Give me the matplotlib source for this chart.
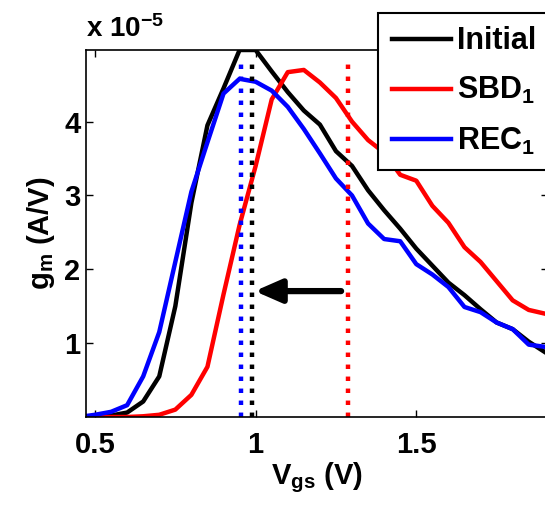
import numpy as np
import matplotlib
matplotlib.use('Agg')
import matplotlib.pyplot as plt

# Vgs 掃描點 (V)
vgs = [0.45, 0.50, 0.55, 0.60, 0.65, 0.70, 0.75, 0.80, 0.85, 0.90,
       0.95, 1.00, 1.05, 1.10, 1.15, 1.20, 1.25, 1.30, 1.35, 1.40,
       1.45, 1.50, 1.55, 1.60, 1.65, 1.70, 1.75, 1.80, 1.85, 1.90]

# gm (x 1e-5 A/V)
gm_initial = [0.00, 0.00, 0.02, 0.06, 0.21, 0.55, 1.50, 2.90, 3.95, 4.45,
              4.97, 4.97, 4.68, 4.40, 4.15, 3.96, 3.60, 3.40, 3.07, 2.80,
              2.55, 2.28, 2.05, 1.82, 1.65, 1.46, 1.28, 1.19, 1.02, 0.88]
gm_sbd1 = [0.00, 0.00, 0.00, 0.00, 0.01, 0.03, 0.10, 0.30, 0.68, 1.66,
           2.60, 3.40, 4.30, 4.67, 4.70, 4.53, 4.32, 4.00, 3.75, 3.58,
           3.28, 3.20, 2.86, 2.63, 2.30, 2.10, 1.84, 1.58, 1.45, 1.40]
gm_rec1 = [0.00, 0.03, 0.07, 0.16, 0.55, 1.15, 2.10, 3.05, 3.72, 4.38,
           4.58, 4.54, 4.42, 4.20, 3.90, 3.57, 3.23, 3.00, 2.62, 2.41,
           2.38, 2.07, 1.93, 1.76, 1.49, 1.42, 1.28, 1.19, 0.98, 0.95]

labels = ['Initial', 'SBD$_1$', 'REC$_1$']
colors = ['k', 'r', 'b']

# 峰值位置 (虛線)
vpeak = [0.9875, 1.286, 0.953]
vline_top = 4.83

# 箭頭 (從 SBD 指回 REC)
arrow_from = (1.266, 1.705)
arrow_to = (0.997, 1.705)

plt.rcParams['font.family'] = ['Liberation Sans', 'DejaVu Sans']
plt.rcParams['font.weight'] = 'bold'
plt.rcParams['axes.labelweight'] = 'bold'
plt.rcParams['mathtext.fontset'] = 'custom'
plt.rcParams['mathtext.rm'] = 'Liberation Sans:bold'
plt.rcParams['mathtext.it'] = 'Liberation Sans:bold'
plt.rcParams['mathtext.bf'] = 'Liberation Sans:bold'
plt.rcParams['mathtext.default'] = 'rm'

fig = plt.figure(figsize=(5.45, 5.07), dpi=100)
ax = fig.add_axes([86 / 545, 90 / 507, 462 / 545, 367 / 507])

scale = 1e-5
for y, c, lab in zip([gm_initial, gm_sbd1, gm_rec1], colors, labels):
    ax.plot(vgs, np.array(y) * scale, color=c, lw=3.2, label=lab)

for xv, c in zip(vpeak, colors):
    ax.plot([xv, xv], [0, vline_top * scale], color=c, lw=3.2,
            linestyle=(0, (1, 1.7)), dash_capstyle='butt')

ax.annotate('', xy=(arrow_to[0], arrow_to[1] * scale),
            xytext=(arrow_from[0], arrow_from[1] * scale),
            arrowprops=dict(arrowstyle='-|>,head_length=0.8,head_width=0.35',
                            lw=4.5, color='k', mutation_scale=20,
                            shrinkA=0, shrinkB=0))

ax.set_xlim(0.472, 1.91)
ax.set_ylim(0, 4.97e-5)
ax.set_xticks([0.5, 1.0, 1.5])
ax.set_xticklabels(['0.5', '1', '1.5'])
ax.set_yticks(np.array([1, 2, 3, 4]) * scale)
ax.set_yticklabels(['1', '2', '3', '4'])
ax.tick_params(direction='in', length=5, width=1, labelsize=21,
               top=True, right=True)
ax.tick_params(axis='x', pad=10)
ax.tick_params(axis='y', pad=4)
for s in ax.spines.values():
    s.set_linewidth(1.2)

ax.set_xlabel('$\\mathrm{V_{gs}}$ (V)', fontsize=21, labelpad=1)
ax.set_ylabel('$\\mathrm{g_m}$ (A/V)', fontsize=21, labelpad=5)
ax.text(0.0, 1.02, 'x 10$^{-5}$', transform=ax.transAxes, fontsize=20,
        ha='left', va='bottom')

leg = fig.legend(loc='upper left', bbox_to_anchor=(378 / 545, 1 - 12.7 / 507),
                 fontsize=22, frameon=True, fancybox=False, handlelength=1.95,
                 handletextpad=0.2, borderpad=0.45, labelspacing=0.62,
                 borderaxespad=0)
leg.get_frame().set_edgecolor('k')
leg.get_frame().set_linewidth(1.5)
leg.get_frame().set_alpha(1)

plt.savefig('out.png', dpi=100)
